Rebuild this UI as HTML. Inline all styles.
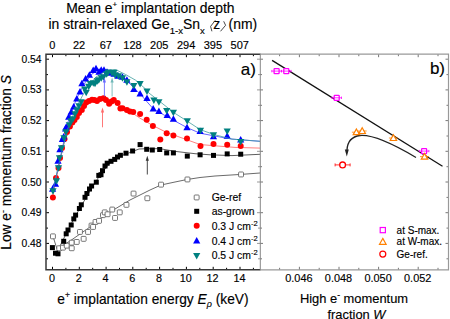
<!DOCTYPE html>
<html><head><meta charset="utf-8"><style>html,body{margin:0;padding:0;background:#fff;width:450px;height:319px;overflow:hidden}svg{display:block;font-family:'Liberation Sans',sans-serif} text{stroke:#000;stroke-width:0.15px}</style></head>
<body><svg width="450" height="319" viewBox="0 0 450 319"><path d="M52.5 269.8v-3M52.5 54.2v3M65.9 269.8v-2M65.9 54.2v2M79.3 269.8v-3M79.3 54.2v3M92.7 269.8v-2M92.7 54.2v2M106.1 269.8v-3M106.1 54.2v3M119.5 269.8v-2M119.5 54.2v2M132.8 269.8v-3M132.8 54.2v3M146.2 269.8v-2M146.2 54.2v2M159.6 269.8v-3M159.6 54.2v3M173.0 269.8v-2M173.0 54.2v2M186.4 269.8v-3M186.4 54.2v3M199.8 269.8v-2M199.8 54.2v2M213.2 269.8v-3M213.2 54.2v3M226.6 269.8v-2M226.6 54.2v2M240.0 269.8v-3M240.0 54.2v3M253.4 269.8v-2M253.4 54.2v2M46 258.8h2M46 243.4h3M46 228.1h2M46 212.7h3M46 197.4h2M46 182.0h3M46 166.7h2M46 151.3h3M46 136.0h2M46 120.6h3M46 105.3h2M46 89.9h3M46 74.6h2M46 59.2h3" stroke="#000" stroke-width="1" fill="none"/>
<path d="M260 258.8h-2M260 243.4h-3M260 228.1h-2M260 212.7h-3M260 197.4h-2M260 182.0h-3M260 166.7h-2M260 151.3h-3M260 136.0h-2M260 120.6h-3M260 105.3h-2M260 89.9h-3M260 74.6h-2M260 59.2h-3" stroke="#999" stroke-width="1" fill="none"/>
<path d="M53.0 236.4 L57.0 249.0 L62.0 246.0 L70.0 241.0 L80.0 234.0 L90.0 227.0 L100.0 219.0 L110.0 212.0 L120.0 206.0 L130.0 200.0 L140.0 195.0 L150.0 190.0 L161.0 185.0 L175.0 182.0 L187.0 179.5 L200.0 177.5 L215.0 176.0 L241.0 174.4 L260.0 173.0" stroke="#444" stroke-width="0.8" fill="none"/>
<path d="M55.0 254.0 L60.0 246.0 L70.0 226.0 L80.0 208.0 L90.0 191.0 L100.0 175.0 L110.0 163.0 L120.0 156.0 L125.0 154.4 L139.0 149.0 L146.8 148.7 L160.0 148.7 L174.6 151.3 L195.0 153.7 L210.0 154.8 L232.0 155.6 L260.0 154.3" stroke="#333" stroke-width="0.8" fill="none"/>
<rect x="50.5" y="233.9" width="4.9" height="4.9" rx="0.8" fill="#fff" stroke="#555" stroke-width="0.8"/>
<rect x="56.8" y="245.8" width="4.9" height="4.9" rx="0.8" fill="#fff" stroke="#555" stroke-width="0.8"/>
<rect x="60.5" y="245.2" width="4.9" height="4.9" rx="0.8" fill="#fff" stroke="#555" stroke-width="0.8"/>
<rect x="64.3" y="243.2" width="4.9" height="4.9" rx="0.8" fill="#fff" stroke="#555" stroke-width="0.8"/>
<rect x="69.3" y="245.8" width="4.9" height="4.9" rx="0.8" fill="#fff" stroke="#555" stroke-width="0.8"/>
<rect x="69.3" y="240.2" width="4.9" height="4.9" rx="0.8" fill="#fff" stroke="#555" stroke-width="0.8"/>
<rect x="74.3" y="239.5" width="4.9" height="4.9" rx="0.8" fill="#fff" stroke="#555" stroke-width="0.8"/>
<rect x="77.5" y="229.5" width="4.9" height="4.9" rx="0.8" fill="#fff" stroke="#555" stroke-width="0.8"/>
<rect x="81.2" y="236.4" width="4.9" height="4.9" rx="0.8" fill="#fff" stroke="#555" stroke-width="0.8"/>
<rect x="85.6" y="229.5" width="4.9" height="4.9" rx="0.8" fill="#fff" stroke="#555" stroke-width="0.8"/>
<rect x="89.1" y="223.1" width="4.9" height="4.9" rx="0.8" fill="#fff" stroke="#555" stroke-width="0.8"/>
<rect x="90.6" y="224.5" width="4.9" height="4.9" rx="0.8" fill="#fff" stroke="#555" stroke-width="0.8"/>
<rect x="93.1" y="219.5" width="4.9" height="4.9" rx="0.8" fill="#fff" stroke="#555" stroke-width="0.8"/>
<rect x="96.6" y="218.4" width="4.9" height="4.9" rx="0.8" fill="#fff" stroke="#555" stroke-width="0.8"/>
<rect x="100.5" y="212.7" width="4.9" height="4.9" rx="0.8" fill="#fff" stroke="#555" stroke-width="0.8"/>
<rect x="102.3" y="209.9" width="4.9" height="4.9" rx="0.8" fill="#fff" stroke="#555" stroke-width="0.8"/>
<rect x="105.1" y="211.8" width="4.9" height="4.9" rx="0.8" fill="#fff" stroke="#555" stroke-width="0.8"/>
<rect x="109.8" y="207.1" width="4.9" height="4.9" rx="0.8" fill="#fff" stroke="#555" stroke-width="0.8"/>
<rect x="112.6" y="215.5" width="4.9" height="4.9" rx="0.8" fill="#fff" stroke="#555" stroke-width="0.8"/>
<rect x="117.3" y="209.9" width="4.9" height="4.9" rx="0.8" fill="#fff" stroke="#555" stroke-width="0.8"/>
<rect x="124.0" y="202.4" width="4.9" height="4.9" rx="0.8" fill="#fff" stroke="#555" stroke-width="0.8"/>
<rect x="131.1" y="191.1" width="4.9" height="4.9" rx="0.8" fill="#fff" stroke="#555" stroke-width="0.8"/>
<rect x="144.9" y="195.8" width="4.9" height="4.9" rx="0.8" fill="#fff" stroke="#555" stroke-width="0.8"/>
<rect x="158.6" y="182.2" width="4.9" height="4.9" rx="0.8" fill="#fff" stroke="#555" stroke-width="0.8"/>
<rect x="185.0" y="177.0" width="4.9" height="4.9" rx="0.8" fill="#fff" stroke="#555" stroke-width="0.8"/>
<rect x="238.6" y="172.0" width="4.9" height="4.9" rx="0.8" fill="#fff" stroke="#555" stroke-width="0.8"/>
<rect x="49.9" y="245.1" width="5.0" height="5.0" fill="#000"/>
<rect x="53.0" y="250.7" width="5.0" height="5.0" fill="#000"/>
<rect x="55.5" y="251.3" width="5.0" height="5.0" fill="#000"/>
<rect x="61.2" y="238.8" width="5.0" height="5.0" fill="#000"/>
<rect x="63.7" y="231.3" width="5.0" height="5.0" fill="#000"/>
<rect x="65.5" y="227.5" width="5.0" height="5.0" fill="#000"/>
<rect x="68.7" y="222.5" width="5.0" height="5.0" fill="#000"/>
<rect x="71.3" y="216.4" width="5.0" height="5.0" fill="#000"/>
<rect x="73.1" y="212.6" width="5.0" height="5.0" fill="#000"/>
<rect x="76.9" y="206.0" width="5.0" height="5.0" fill="#000"/>
<rect x="78.8" y="202.3" width="5.0" height="5.0" fill="#000"/>
<rect x="82.5" y="194.8" width="5.0" height="5.0" fill="#000"/>
<rect x="84.4" y="191.0" width="5.0" height="5.0" fill="#000"/>
<rect x="87.0" y="186.5" width="5.0" height="5.0" fill="#000"/>
<rect x="89.1" y="183.5" width="5.0" height="5.0" fill="#000"/>
<rect x="93.8" y="179.7" width="5.0" height="5.0" fill="#000"/>
<rect x="96.3" y="172.9" width="5.0" height="5.0" fill="#000"/>
<rect x="98.5" y="172.2" width="5.0" height="5.0" fill="#000"/>
<rect x="100.0" y="168.2" width="5.0" height="5.0" fill="#000"/>
<rect x="102.5" y="163.5" width="5.0" height="5.0" fill="#000"/>
<rect x="104.7" y="160.7" width="5.0" height="5.0" fill="#000"/>
<rect x="108.5" y="158.8" width="5.0" height="5.0" fill="#000"/>
<rect x="112.2" y="156.9" width="5.0" height="5.0" fill="#000"/>
<rect x="115.0" y="154.5" width="5.0" height="5.0" fill="#000"/>
<rect x="117.9" y="152.8" width="5.0" height="5.0" fill="#000"/>
<rect x="123.5" y="150.7" width="5.0" height="5.0" fill="#000"/>
<rect x="130.1" y="148.5" width="5.0" height="5.0" fill="#000"/>
<rect x="137.6" y="142.1" width="5.0" height="5.0" fill="#000"/>
<rect x="144.2" y="146.8" width="5.0" height="5.0" fill="#000"/>
<rect x="149.8" y="147.5" width="5.0" height="5.0" fill="#000"/>
<rect x="157.2" y="147.0" width="5.0" height="5.0" fill="#000"/>
<rect x="164.2" y="150.4" width="5.0" height="5.0" fill="#000"/>
<rect x="170.9" y="150.4" width="5.0" height="5.0" fill="#000"/>
<rect x="184.8" y="153.6" width="5.0" height="5.0" fill="#000"/>
<rect x="197.6" y="152.3" width="5.0" height="5.0" fill="#000"/>
<rect x="211.0" y="152.9" width="5.0" height="5.0" fill="#000"/>
<rect x="224.7" y="151.4" width="5.0" height="5.0" fill="#000"/>
<rect x="238.2" y="151.7" width="5.0" height="5.0" fill="#000"/>
<path d="M52.6 197.0 L58.0 170.0 L64.0 143.0 L70.0 127.0 L78.0 113.0 L86.0 104.0 L95.0 100.0 L105.0 100.0 L115.0 103.0 L125.0 108.0 L140.0 118.2 L153.2 125.7 L166.3 132.3 L187.0 139.8 L200.0 144.5 L215.0 145.8 L235.0 147.4 L260.0 148.1" stroke="#ff6060" stroke-width="0.8" fill="none"/>
<circle cx="52.9" cy="197.6" r="3.0" fill="#ff0000"/>
<circle cx="56.0" cy="178.0" r="3.0" fill="#ff0000"/>
<circle cx="58.5" cy="168.0" r="3.0" fill="#ff0000"/>
<circle cx="60.0" cy="158.0" r="3.0" fill="#ff0000"/>
<circle cx="62.0" cy="148.0" r="3.0" fill="#ff0000"/>
<circle cx="64.5" cy="139.0" r="3.0" fill="#ff0000"/>
<circle cx="67.0" cy="132.0" r="3.0" fill="#ff0000"/>
<circle cx="69.9" cy="126.4" r="3.0" fill="#ff0000"/>
<circle cx="72.4" cy="122.6" r="3.0" fill="#ff0000"/>
<circle cx="74.5" cy="120.0" r="3.0" fill="#ff0000"/>
<circle cx="76.8" cy="117.0" r="3.0" fill="#ff0000"/>
<circle cx="79.0" cy="113.0" r="3.0" fill="#ff0000"/>
<circle cx="81.8" cy="110.0" r="3.0" fill="#ff0000"/>
<circle cx="84.0" cy="106.0" r="3.0" fill="#ff0000"/>
<circle cx="86.2" cy="102.5" r="3.0" fill="#ff0000"/>
<circle cx="89.0" cy="101.0" r="3.0" fill="#ff0000"/>
<circle cx="92.0" cy="99.8" r="3.0" fill="#ff0000"/>
<circle cx="94.5" cy="100.0" r="3.0" fill="#ff0000"/>
<circle cx="97.0" cy="101.0" r="3.0" fill="#ff0000"/>
<circle cx="100.0" cy="99.0" r="3.0" fill="#ff0000"/>
<circle cx="103.5" cy="98.2" r="3.0" fill="#ff0000"/>
<circle cx="106.0" cy="100.0" r="3.0" fill="#ff0000"/>
<circle cx="109.1" cy="103.8" r="3.0" fill="#ff0000"/>
<circle cx="111.5" cy="101.5" r="3.0" fill="#ff0000"/>
<circle cx="113.8" cy="100.0" r="3.0" fill="#ff0000"/>
<circle cx="117.6" cy="102.9" r="3.0" fill="#ff0000"/>
<circle cx="120.4" cy="108.5" r="3.0" fill="#ff0000"/>
<circle cx="122.5" cy="108.2" r="3.0" fill="#ff0000"/>
<circle cx="126.9" cy="110.1" r="3.0" fill="#ff0000"/>
<circle cx="130.0" cy="111.5" r="3.0" fill="#ff0000"/>
<circle cx="133.2" cy="112.0" r="3.0" fill="#ff0000"/>
<circle cx="140.1" cy="113.9" r="3.0" fill="#ff0000"/>
<circle cx="146.7" cy="119.8" r="3.0" fill="#ff0000"/>
<circle cx="152.9" cy="126.0" r="3.0" fill="#ff0000"/>
<circle cx="160.3" cy="139.4" r="3.0" fill="#ff0000"/>
<circle cx="166.7" cy="133.2" r="3.0" fill="#ff0000"/>
<circle cx="173.4" cy="135.6" r="3.0" fill="#ff0000"/>
<circle cx="187.0" cy="138.5" r="3.0" fill="#ff0000"/>
<circle cx="200.5" cy="146.0" r="3.0" fill="#ff0000"/>
<circle cx="213.5" cy="144.1" r="3.0" fill="#ff0000"/>
<circle cx="227.2" cy="144.8" r="3.0" fill="#ff0000"/>
<circle cx="240.7" cy="146.0" r="3.0" fill="#ff0000"/>
<path d="M53.1 191.4 L60.0 159.0 L68.0 122.0 L76.0 100.0 L84.0 84.0 L92.0 74.0 L100.0 69.0 L108.0 70.0 L118.0 75.0 L128.0 82.0 L140.0 93.8 L153.2 108.8 L166.3 116.3 L187.0 127.6 L200.0 133.2 L220.0 137.0 L232.0 139.1 L260.0 141.3" stroke="#4040ff" stroke-width="0.8" fill="none"/>
<path d="M52.6 185.2L56.2 191.7L49.0 191.7Z" fill="#0000ff"/>
<path d="M55.5 180.2L59.1 186.7L51.9 186.7Z" fill="#0000ff"/>
<path d="M58.0 157.2L61.6 163.7L54.4 163.7Z" fill="#0000ff"/>
<path d="M59.9 145.7L63.5 152.2L56.3 152.2Z" fill="#0000ff"/>
<path d="M62.4 135.6L66.0 142.1L58.8 142.1Z" fill="#0000ff"/>
<path d="M63.7 133.1L67.3 139.6L60.1 139.6Z" fill="#0000ff"/>
<path d="M65.6 125.0L69.2 131.5L62.0 131.5Z" fill="#0000ff"/>
<path d="M66.2 123.2L69.8 129.7L62.6 129.7Z" fill="#0000ff"/>
<path d="M68.7 113.2L72.3 119.7L65.1 119.7Z" fill="#0000ff"/>
<path d="M71.2 108.2L74.8 114.7L67.6 114.7Z" fill="#0000ff"/>
<path d="M73.7 103.1L77.3 109.6L70.1 109.6Z" fill="#0000ff"/>
<path d="M76.8 95.0L80.4 101.5L73.2 101.5Z" fill="#0000ff"/>
<path d="M80.0 88.1L83.6 94.6L76.4 94.6Z" fill="#0000ff"/>
<path d="M81.9 79.7L85.5 86.2L78.3 86.2Z" fill="#0000ff"/>
<path d="M85.6 75.0L89.2 81.5L82.0 81.5Z" fill="#0000ff"/>
<path d="M89.4 71.2L93.0 77.7L85.8 77.7Z" fill="#0000ff"/>
<path d="M93.2 66.5L96.8 73.0L89.6 73.0Z" fill="#0000ff"/>
<path d="M96.0 64.7L99.6 71.2L92.4 71.2Z" fill="#0000ff"/>
<path d="M99.0 68.2L102.6 74.7L95.4 74.7Z" fill="#0000ff"/>
<path d="M101.2 66.2L104.8 72.7L97.6 72.7Z" fill="#0000ff"/>
<path d="M104.0 66.2L107.6 72.7L100.4 72.7Z" fill="#0000ff"/>
<path d="M107.0 68.2L110.6 74.7L103.4 74.7Z" fill="#0000ff"/>
<path d="M110.0 69.2L113.6 75.7L106.4 75.7Z" fill="#0000ff"/>
<path d="M114.0 70.2L117.6 76.7L110.4 76.7Z" fill="#0000ff"/>
<path d="M118.0 72.2L121.6 78.7L114.4 78.7Z" fill="#0000ff"/>
<path d="M122.5 73.2L126.1 79.7L118.9 79.7Z" fill="#0000ff"/>
<path d="M126.9 76.2L130.5 82.7L123.3 82.7Z" fill="#0000ff"/>
<path d="M133.8 85.6L137.4 92.1L130.2 92.1Z" fill="#0000ff"/>
<path d="M140.1 90.0L143.7 96.5L136.5 96.5Z" fill="#0000ff"/>
<path d="M147.0 94.4L150.6 100.9L143.4 100.9Z" fill="#0000ff"/>
<path d="M153.2 105.1L156.8 111.6L149.6 111.6Z" fill="#0000ff"/>
<path d="M158.9 107.6L162.5 114.1L155.3 114.1Z" fill="#0000ff"/>
<path d="M167.2 111.5L170.8 118.0L163.6 118.0Z" fill="#0000ff"/>
<path d="M173.4 115.3L177.0 121.8L169.8 121.8Z" fill="#0000ff"/>
<path d="M187.0 123.8L190.6 130.3L183.4 130.3Z" fill="#0000ff"/>
<path d="M200.1 127.5L203.7 134.0L196.5 134.0Z" fill="#0000ff"/>
<path d="M213.5 132.8L217.1 139.3L209.9 139.3Z" fill="#0000ff"/>
<path d="M227.2 132.2L230.8 138.7L223.6 138.7Z" fill="#0000ff"/>
<path d="M240.7 136.0L244.3 142.5L237.1 142.5Z" fill="#0000ff"/>
<path d="M53.0 190.0 L60.0 159.0 L68.0 128.0 L76.0 108.0 L86.0 89.0 L96.0 77.0 L106.0 71.0 L115.5 69.5 L125.6 74.5 L135.6 80.2 L145.6 89.0 L147.5 91.9 L160.7 102.2 L173.8 112.6 L187.0 121.0 L200.0 129.5 L213.8 134.5 L232.0 139.1 L260.0 141.3" stroke="#40a0a0" stroke-width="0.8" fill="none"/>
<path d="M53.0 194.8L56.6 188.3L49.4 188.3Z" fill="#008080"/>
<path d="M56.5 184.8L60.1 178.3L52.9 178.3Z" fill="#008080"/>
<path d="M58.5 171.8L62.1 165.3L54.9 165.3Z" fill="#008080"/>
<path d="M59.5 161.8L63.1 155.3L55.9 155.3Z" fill="#008080"/>
<path d="M61.5 151.8L65.1 145.3L57.9 145.3Z" fill="#008080"/>
<path d="M64.0 141.8L67.6 135.3L60.4 135.3Z" fill="#008080"/>
<path d="M66.0 135.8L69.6 129.3L62.4 129.3Z" fill="#008080"/>
<path d="M69.3 128.8L72.9 122.3L65.7 122.3Z" fill="#008080"/>
<path d="M71.0 124.8L74.6 118.3L67.4 118.3Z" fill="#008080"/>
<path d="M73.0 122.7L76.6 116.2L69.4 116.2Z" fill="#008080"/>
<path d="M75.0 117.8L78.6 111.3L71.4 111.3Z" fill="#008080"/>
<path d="M76.8 113.8L80.4 107.3L73.2 107.3Z" fill="#008080"/>
<path d="M79.0 109.8L82.6 103.3L75.4 103.3Z" fill="#008080"/>
<path d="M81.2 105.7L84.8 99.2L77.6 99.2Z" fill="#008080"/>
<path d="M84.7 93.1L88.3 86.6L81.1 86.6Z" fill="#008080"/>
<path d="M86.2 96.3L89.8 89.8L82.6 89.8Z" fill="#008080"/>
<path d="M88.7 90.3L92.3 83.8L85.1 83.8Z" fill="#008080"/>
<path d="M90.3 87.4L93.9 80.9L86.7 80.9Z" fill="#008080"/>
<path d="M93.3 86.8L96.9 80.3L89.7 80.3Z" fill="#008080"/>
<path d="M95.0 87.3L98.6 80.8L91.4 80.8Z" fill="#008080"/>
<path d="M97.3 84.8L100.9 78.3L93.7 78.3Z" fill="#008080"/>
<path d="M98.8 83.7L102.4 77.2L95.2 77.2Z" fill="#008080"/>
<path d="M101.3 81.8L104.9 75.3L97.7 75.3Z" fill="#008080"/>
<path d="M103.5 80.8L107.1 74.3L99.9 74.3Z" fill="#008080"/>
<path d="M106.7 77.8L110.3 71.3L103.1 71.3Z" fill="#008080"/>
<path d="M108.2 76.1L111.8 69.6L104.6 69.6Z" fill="#008080"/>
<path d="M112.0 76.8L115.6 70.3L108.4 70.3Z" fill="#008080"/>
<path d="M114.0 76.3L117.6 69.8L110.4 69.8Z" fill="#008080"/>
<path d="M115.0 78.8L118.6 72.3L111.4 72.3Z" fill="#008080"/>
<path d="M118.5 79.8L122.1 73.3L114.9 73.3Z" fill="#008080"/>
<path d="M122.5 81.8L126.1 75.3L118.9 75.3Z" fill="#008080"/>
<path d="M126.9 85.7L130.5 79.2L123.3 79.2Z" fill="#008080"/>
<path d="M133.8 89.5L137.4 83.0L130.2 83.0Z" fill="#008080"/>
<path d="M140.1 87.6L143.7 81.1L136.5 81.1Z" fill="#008080"/>
<path d="M147.0 95.1L150.6 88.6L143.4 88.6Z" fill="#008080"/>
<path d="M153.9 103.9L157.5 97.4L150.3 97.4Z" fill="#008080"/>
<path d="M158.9 105.8L162.5 99.3L155.3 99.3Z" fill="#008080"/>
<path d="M166.7 114.4L170.3 107.9L163.1 107.9Z" fill="#008080"/>
<path d="M173.4 116.3L177.0 109.8L169.8 109.8Z" fill="#008080"/>
<path d="M187.3 124.8L190.9 118.3L183.7 118.3Z" fill="#008080"/>
<path d="M200.5 134.2L204.1 127.7L196.9 127.7Z" fill="#008080"/>
<path d="M213.5 138.8L217.1 132.3L209.9 132.3Z" fill="#008080"/>
<path d="M227.2 135.1L230.8 128.6L223.6 128.6Z" fill="#008080"/>
<path d="M240.7 145.5L244.3 139.0L237.1 139.0Z" fill="#008080"/>
<path d="M104.4 96.4V81.6" stroke="#6a6aff" stroke-width="0.9"/><path d="M104.4 77.6l-1.6 5h3.2z" fill="#6a6aff"/>
<path d="M112.1 96.4V81.6" stroke="#70b8b8" stroke-width="0.9"/><path d="M112.1 77.6l-1.6 5h3.2z" fill="#70b8b8"/>
<path d="M102.5 127.3V111.6" stroke="#ff6a6a" stroke-width="0.9"/><path d="M102.5 107.6l-1.6 5h3.2z" fill="#ff6a6a"/>
<path d="M147.3 174.5V159.7" stroke="#333" stroke-width="0.9"/><path d="M147.3 155.7l-1.6 5h3.2z" fill="#333"/>
<path d="M260.5 54.2H46V269.8H260.5" fill="none" stroke="#383838" stroke-width="1.5"/>
<path d="M279.6 269.8v-2M279.6 54.2v2M299.4 269.8v-3M299.4 54.2v3M319.2 269.8v-2M319.2 54.2v2M339.0 269.8v-3M339.0 54.2v3M358.8 269.8v-2M358.8 54.2v2M378.6 269.8v-3M378.6 54.2v3M398.4 269.8v-2M398.4 54.2v2M418.2 269.8v-3M418.2 54.2v3M438.0 269.8v-2M438.0 54.2v2M260 258.8h2M448.5 258.8h-2M260 243.4h3M448.5 243.4h-3M260 228.1h2M448.5 228.1h-2M260 212.7h3M448.5 212.7h-3M260 197.4h2M448.5 197.4h-2M260 182.0h3M448.5 182.0h-3M260 166.7h2M448.5 166.7h-2M260 151.3h3M448.5 151.3h-3M260 136.0h2M448.5 136.0h-2M260 120.6h3M448.5 120.6h-3M260 105.3h2M448.5 105.3h-2M260 89.9h3M448.5 89.9h-3M260 74.6h2M448.5 74.6h-2M260 59.2h3M448.5 59.2h-3" stroke="#777" stroke-width="1" fill="none"/>
<path d="M260 54.2H448.5V269.8H260" fill="none" stroke="#999" stroke-width="1.2"/>
<path d="M260.3 54.2V269.8" stroke="#888" stroke-width="1"/>
<path d="M272.1 60.4L442.5 166.3" stroke="#111" stroke-width="1.25"/>
<path d="M416 157.5C395 145 372 134.5 360 135.5C352 136.5 347.5 141 347 150" stroke="#222" stroke-width="1.3" fill="none"/>
<path d="M346.8 156.5l-2-7h4z" fill="#222"/>
<rect x="274.1" y="68.6" width="5" height="5" rx="0.6" fill="#fff" stroke="#ff00ff" stroke-width="1.3"/>
<path d="M271.8 71.1H281.4M271.8 69.9v2.4M281.4 69.9v2.4" stroke="#ff00ff" stroke-width="0.8"/>
<rect x="283.8" y="68.6" width="5" height="5" rx="0.6" fill="#fff" stroke="#ff00ff" stroke-width="1.3"/>
<path d="M281.5 71.1H291.1M281.5 69.9v2.4M291.1 69.9v2.4" stroke="#ff00ff" stroke-width="0.8"/>
<rect x="334.2" y="95.3" width="5" height="5" rx="0.6" fill="#fff" stroke="#ff00ff" stroke-width="1.3"/>
<path d="M331.9 97.8H341.5M331.9 96.6v2.4M341.5 96.6v2.4" stroke="#ff00ff" stroke-width="0.8"/>
<rect x="421.6" y="148.6" width="5" height="5" rx="0.6" fill="#fff" stroke="#ff00ff" stroke-width="1.3"/>
<path d="M419.3 151.1H428.9M419.3 149.9v2.4M428.9 149.9v2.4" stroke="#ff00ff" stroke-width="0.8"/>
<path d="M351.9 132.2H360.9" stroke="#ff8000" stroke-width="0.8"/>
<path d="M356.4 129.0L359.6 134.7H353.2Z" fill="#fff" stroke="#ff8000" stroke-width="1.2"/>
<path d="M357.7 131.0H366.7" stroke="#ff8000" stroke-width="0.8"/>
<path d="M362.2 127.8L365.4 133.5H359.0Z" fill="#fff" stroke="#ff8000" stroke-width="1.2"/>
<path d="M388.9 138.0H397.9" stroke="#ff8000" stroke-width="0.8"/>
<path d="M393.4 134.8L396.6 140.5H390.2Z" fill="#fff" stroke="#ff8000" stroke-width="1.2"/>
<path d="M420.0 156.6H429.0" stroke="#ff8000" stroke-width="0.8"/>
<path d="M424.5 153.4L427.7 159.1H421.3Z" fill="#fff" stroke="#ff8000" stroke-width="1.2"/>
<path d="M335.1 164.9H350.1M335.1 163.4v3M350.1 163.4v3" stroke="#ff0000" stroke-width="0.8"/>
<circle cx="342.6" cy="164.9" r="2.9" fill="#fff" stroke="#ff0000" stroke-width="1.3"/>
<g font-family="'Liberation Sans', sans-serif" fill="#000">
<text x="66.2" y="12.5" font-size="13.9" text-anchor="start" >Mean e<tspan dy="-6" font-size="8">+</tspan><tspan dy="6"> implantation depth</tspan></text>
<text x="48.5" y="29.3" font-size="13.9" text-anchor="start" >in strain-relaxed Ge<tspan dy="4.2" font-size="9.6">1-x</tspan><tspan dy="-4.2">Sn</tspan><tspan dy="4.2" font-size="9.6">x</tspan></text>
<text x="213.2" y="29.3" font-size="13.9" text-anchor="start" >z</text>
<text x="228.6" y="29.3" font-size="13.9" text-anchor="start" >(nm)</text>
<path d="M215.3 20.3L210.6 26.4L211.9 31.3M223.7 21.3L225.6 25.3L220.5 31.3" stroke="#333" stroke-width="0.9" fill="none"/>
<text x="52.2" y="48.8" font-size="11" text-anchor="middle" >0</text>
<text x="79.0" y="48.8" font-size="11" text-anchor="middle" >22</text>
<text x="105.8" y="48.8" font-size="11" text-anchor="middle" >67</text>
<text x="132.5" y="48.8" font-size="11" text-anchor="middle" >128</text>
<text x="159.3" y="48.8" font-size="11" text-anchor="middle" >205</text>
<text x="186.1" y="48.8" font-size="11" text-anchor="middle" >294</text>
<text x="212.9" y="48.8" font-size="11" text-anchor="middle" >395</text>
<text x="239.7" y="48.8" font-size="11" text-anchor="middle" >507</text>
<text x="51.9" y="281.8" font-size="10.8" text-anchor="middle" >0</text>
<text x="78.7" y="281.8" font-size="10.8" text-anchor="middle" >2</text>
<text x="105.5" y="281.8" font-size="10.8" text-anchor="middle" >4</text>
<text x="132.2" y="281.8" font-size="10.8" text-anchor="middle" >6</text>
<text x="159.0" y="281.8" font-size="10.8" text-anchor="middle" >8</text>
<text x="185.8" y="281.8" font-size="10.8" text-anchor="middle" >10</text>
<text x="212.6" y="281.8" font-size="10.8" text-anchor="middle" >12</text>
<text x="239.4" y="281.8" font-size="10.8" text-anchor="middle" >14</text>
<text x="41.5" y="246.9" font-size="10.3" text-anchor="end" >0.48</text>
<text x="41.5" y="216.2" font-size="10.3" text-anchor="end" >0.49</text>
<text x="41.5" y="185.5" font-size="10.3" text-anchor="end" >0.50</text>
<text x="41.5" y="154.8" font-size="10.3" text-anchor="end" >0.51</text>
<text x="41.5" y="124.1" font-size="10.3" text-anchor="end" >0.52</text>
<text x="41.5" y="93.4" font-size="10.3" text-anchor="end" >0.53</text>
<text x="41.5" y="62.7" font-size="10.3" text-anchor="end" >0.54</text>
<text transform="translate(11.2,162.4) rotate(-90)" font-size="13.8" text-anchor="middle">Low e<tspan dy="-5" font-size="9">-</tspan><tspan dy="5"> momentum fraction </tspan><tspan font-style="italic">S</tspan></text>
<text x="57.3" y="303.8" font-size="13.75" text-anchor="start" >e<tspan dy="-6" font-size="8.5">+</tspan><tspan dy="6"> implantation energy </tspan><tspan font-style="italic">E</tspan><tspan dy="3" font-size="9" font-style="italic">ρ</tspan><tspan dy="-3"> (keV)</tspan></text>
<text x="255.8" y="74.5" font-size="17" text-anchor="end" >a)</text>
<text x="445" y="74" font-size="17" text-anchor="end" >b)</text>
</g>
<rect x="194.2" y="195.0" width="4.9" height="4.9" rx="0.8" fill="#fff" stroke="#555" stroke-width="0.8"/><text x="211.7" y="201.2" font-size="10.4" font-family="'Liberation Sans', sans-serif">Ge-ref</text><rect x="194.2" y="208.8" width="5.0" height="5.0" fill="#000"/><text x="211.7" y="215.1" font-size="10.4" font-family="'Liberation Sans', sans-serif">as-grown</text><circle cx="196.7" cy="225.8" r="3.0" fill="#ff0000"/><text x="211.7" y="229.6" font-size="10.4" font-family="'Liberation Sans', sans-serif">0.3 J cm<tspan dy="-4" font-size="7.5">-2</tspan></text><path d="M196.7 237.0L200.3 243.5L193.1 243.5Z" fill="#0000ff"/><text x="211.7" y="244.6" font-size="10.4" font-family="'Liberation Sans', sans-serif">0.4 J cm<tspan dy="-4" font-size="7.5">-2</tspan></text><path d="M196.7 259.4L200.3 252.9L193.1 252.9Z" fill="#008080"/><text x="211.7" y="259.4" font-size="10.4" font-family="'Liberation Sans', sans-serif">0.5 J cm<tspan dy="-4" font-size="7.5">-2</tspan></text>
<rect x="380.2" y="227.5" width="5.2" height="5.2" fill="#fff" stroke="#ff00ff" stroke-width="1.2"/>
<text x="396.6" y="233.8" font-size="10" font-family="'Liberation Sans', sans-serif">at S-max.</text>
<path d="M382.8 238.39999999999998L386.1 244.29999999999998H379.5Z" fill="#fff" stroke="#ff8000" stroke-width="1.2"/>
<text x="396.6" y="245.4" font-size="10" font-family="'Liberation Sans', sans-serif">at W-max.</text>
<circle cx="382.8" cy="254.1" r="3" fill="#fff" stroke="#ff0000" stroke-width="1.2"/>
<text x="396.6" y="257.8" font-size="10" font-family="'Liberation Sans', sans-serif">Ge-ref.</text>
<text x="298.9" y="281.9" font-size="10.9" text-anchor="middle" font-family="'Liberation Sans', sans-serif">0.046</text>
<text x="338.5" y="281.9" font-size="10.9" text-anchor="middle" font-family="'Liberation Sans', sans-serif">0.048</text>
<text x="378.1" y="281.9" font-size="10.9" text-anchor="middle" font-family="'Liberation Sans', sans-serif">0.050</text>
<text x="417.7" y="281.9" font-size="10.9" text-anchor="middle" font-family="'Liberation Sans', sans-serif">0.052</text>
<text x="354" y="303.1" font-size="12.9" text-anchor="middle" font-family="'Liberation Sans', sans-serif">High e<tspan dy="-5" font-size="8.5">-</tspan><tspan dy="5"> momentum</tspan></text>
<text x="356.5" y="318.8" font-size="12.9" text-anchor="middle" font-family="'Liberation Sans', sans-serif">fraction <tspan font-style="italic">W</tspan></text></svg></body></html>
